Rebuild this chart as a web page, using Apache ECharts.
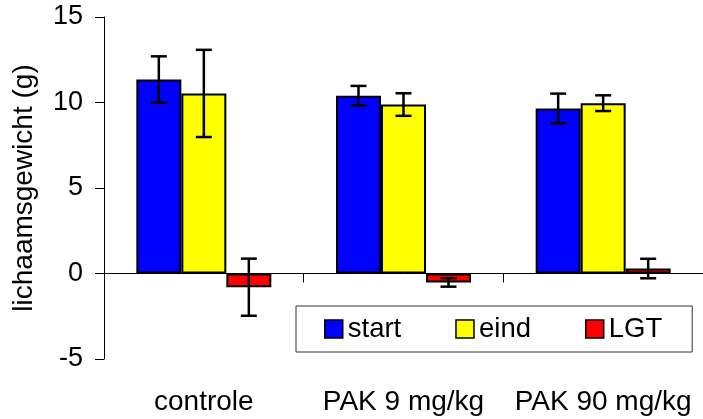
<!DOCTYPE html>
<html>
<head>
<meta charset="utf-8">
<script src="https://cdn.jsdelivr.net/npm/echarts@6/dist/echarts.min.js"></script>
<style>
  html, body { margin: 0; padding: 0; background: #fff; }
  #chart { width: 703px; height: 419px; }
</style>
</head>
<body>
<div id="chart"></div>
<script>
// groups on the x axis
const categories = ['controle', 'PAK 9 mg/kg', 'PAK 90 mg/kg'];

// mean body weight and error (g)
const startMean = [11.35, 10.4, 9.65];
const startErr = [1.35, 0.57, 0.87];
const eindMean = [10.53, 9.88, 9.96];
const eindErr = [2.55, 0.66, 0.46];
const lgtMean = [-0.8, -0.52, 0.29];
const lgtErr = [1.67, 0.25, 0.57];

const yTicks = [-5, 0, 5, 10, 15];

const FONT = "'Liberation Sans', Arial, sans-serif";
const BAR_W = 45;

const chart = echarts.init(document.getElementById('chart'));

const errorSeries = (means, errs, slot) => ({
  type: 'custom',
  xAxisIndex: 0,
  z: 5,
  silent: true,
  data: means.map((m, i) => [i, m - errs[i], m + errs[i]]),
  renderItem: (params, api) => {
    const lo = api.coord([api.value(0), api.value(1)]);
    const hi = api.coord([api.value(0), api.value(2)]);
    const x = lo[0] + (slot - 1) * BAR_W;
    const cap = 8;
    const style = { stroke: '#000', lineWidth: 2.5 };
    return {
      type: 'group',
      children: [
        { type: 'line', shape: { x1: x, y1: lo[1], x2: x, y2: hi[1] }, style },
        { type: 'line', shape: { x1: x - cap, y1: lo[1], x2: x + cap, y2: lo[1] }, style },
        { type: 'line', shape: { x1: x - cap, y1: hi[1], x2: x + cap, y2: hi[1] }, style }
      ]
    };
  }
});

const barSeries = (name, data, color) => ({
  name,
  type: 'bar',
  xAxisIndex: 0,
  data,
  barWidth: BAR_W,
  barGap: '0%',
  itemStyle: { color, borderColor: '#000', borderWidth: 2 }
});

chart.setOption({
  animation: false,
  textStyle: { fontFamily: FONT },
  grid: { left: 104, top: 17, width: 602, height: 342 },
  legend: {
    data: ['start', 'eind', 'LGT'],
    left: 296,
    top: 306,
    padding: [9, 30, 9, 28],
    itemGap: 54,
    itemWidth: 18,
    itemHeight: 18,
    icon: 'rect',
    backgroundColor: '#fff',
    borderColor: '#333',
    borderWidth: 1,
    borderRadius: 0,
    itemStyle: { borderColor: '#000', borderWidth: 1.5 },
    textStyle: { fontSize: 27.5, color: '#000', fontFamily: FONT }
  },
  xAxis: [
    {
      type: 'category',
      data: categories,
      position: 'bottom',
      axisLine: { onZero: true, lineStyle: { color: '#000', width: 1 } },
      axisTick: { show: true, length: 9, lineStyle: { color: '#000' } },
      axisLabel: { show: false }
    },
    {
      type: 'category',
      data: categories,
      position: 'bottom',
      axisLine: { show: false, onZero: false },
      axisTick: { show: false },
      axisLabel: { margin: 29, interval: 0, hideOverlap: false, fontSize: 28, color: '#000', fontFamily: FONT }
    }
  ],
  yAxis: {
    type: 'value',
    min: yTicks[0],
    max: yTicks[yTicks.length - 1],
    interval: 5,
    name: 'lichaamsgewicht (g)',
    nameLocation: 'middle',
    nameRotate: 90,
    nameGap: 66,
    nameTextStyle: { fontSize: 28, color: '#000', fontFamily: FONT },
    axisLine: { show: true, lineStyle: { color: '#000', width: 1 } },
    axisTick: { show: true, length: 9, lineStyle: { color: '#000' } },
    axisLabel: { margin: 21, fontSize: 27, color: '#000', fontFamily: FONT },
    splitLine: { show: false }
  },
  series: [
    barSeries('start', startMean, '#0000ff'),
    barSeries('eind', eindMean, '#ffff00'),
    barSeries('LGT', lgtMean, '#ff0000'),
    errorSeries(startMean, startErr, 0),
    errorSeries(eindMean, eindErr, 1),
    errorSeries(lgtMean, lgtErr, 2)
  ]
});
</script>
</body>
</html>
